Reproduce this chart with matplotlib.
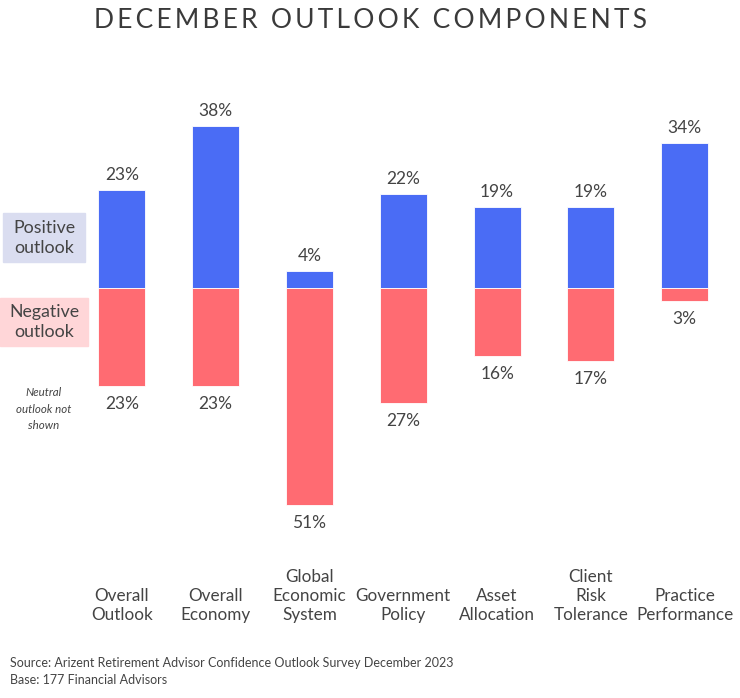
import matplotlib
matplotlib.use("Agg")
import matplotlib.pyplot as plt
from matplotlib.patches import Rectangle

categories = ["Overall\nOutlook", "Overall\nEconomy", "Global\nEconomic\nSystem",
              "Government\nPolicy", "Asset\nAllocation", "Client\nRisk\nTolerance",
              "Practice\nPerformance"]
positive = [23, 38, 4, 22, 19, 19, 34]
negative = [23, 23, 51, 27, 16, 17, 3]

BLUE = "#4A6CF5"
RED = "#FF6B72"
TXT = "#444444"
FONT = "Lato"

fig = plt.figure(figsize=(7.4, 6.98), dpi=100)
ax = fig.add_axes([0, 0, 1, 1])
ax.set_xlim(-1.30, 6.59)
ax.set_ylim(-96.2, 67.6)
ax.axis("off")

x = list(range(len(categories)))
ax.bar(x, positive, width=0.50, color=BLUE, edgecolor="white", linewidth=0.6)
ax.bar(x, [-v for v in negative], width=0.50, color=RED, edgecolor="white", linewidth=0.6)

for xi, p, n in zip(x, positive, negative):
    ax.annotate(f"{p}%", (xi, p), xytext=(0, 7), textcoords="offset pixels",
                ha="center", va="bottom", fontsize=12.5, color=TXT, family=FONT)
    ax.annotate(f"{n}%", (xi, -n), xytext=(0, -10), textcoords="offset pixels",
                ha="center", va="top", fontsize=12.5, color=TXT, family=FONT)

for xi, c in zip(x, categories):
    fig.text((xi + 1.30) / 7.89, 1 - 623 / 698, c, ha="center", va="bottom",
             fontsize=12.3, color=TXT, family=FONT, linespacing=1.25)

# legend boxes
fig.patches.append(Rectangle((3 / 740, 1 - 262 / 698), 82 / 740, 49 / 698,
                             transform=fig.transFigure, color="#DADDF0", zorder=0))
fig.patches.append(Rectangle((0 / 740, 1 - 346 / 698), 88 / 740, 48 / 698,
                             transform=fig.transFigure, color="#FFD6D8", zorder=0))
fig.text(44 / 740, 1 - 238 / 698, "Positive\noutlook", ha="center", va="center",
         fontsize=12.8, color=TXT, family=FONT, linespacing=1.3)
fig.text(44 / 740, 1 - 322 / 698, "Negative\noutlook", ha="center", va="center",
         fontsize=12.8, color=TXT, family=FONT, linespacing=1.3)
fig.text(44 / 740, 1 - 409 / 698, "Neutral\noutlook not\nshown", ha="center", va="center",
         fontsize=8.3, color=TXT, family=FONT, style="italic", linespacing=1.6)

title = "\u2009".join("DECEMBER OUTLOOK COMPONENTS")
fig.text(0.5, 1 - 20 / 698, title,
         ha="center", va="center", fontsize=19, color="#3a3a3a", family=[FONT, "DejaVu Sans"])

fig.text(10 / 740, 1 - 663 / 698, "Source: Arizent Retirement Advisor Confidence Outlook Survey December 2023",
         ha="left", va="center", fontsize=9, color=TXT, family=FONT)
fig.text(10 / 740, 1 - 680 / 698, "Base: 177 Financial Advisors",
         ha="left", va="center", fontsize=9, color=TXT, family=FONT)

fig.savefig("out.png", dpi=100)
